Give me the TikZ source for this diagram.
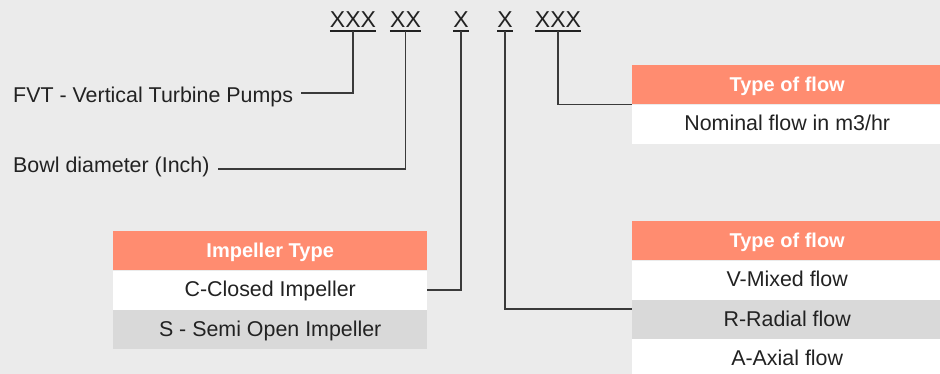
\documentclass[tikz,border=0pt]{standalone}
\usepackage{fontspec}
\setmainfont{Liberation Sans}
\definecolor{bg}{HTML}{EBEBEB}
\definecolor{hdr}{HTML}{FF8C70}
\definecolor{rowgray}{HTML}{D9D9D9}
\definecolor{ink}{HTML}{222222}
\definecolor{wirec}{HTML}{3A3A3A}
\begin{document}
\begin{tikzpicture}[x=1pt,y=-1pt,
  code/.style={font=\fontsize{23}{27}\selectfont, text=ink, inner xsep=0pt, inner ysep=3.7pt, anchor=base},
  uline/.style={draw=ink, line width=1.8pt},
  lbl/.style={font=\fontsize{21.4}{25}\selectfont, text=ink, inner xsep=8pt, inner ysep=0pt, anchor=base west},
  cell/.style={minimum width=#1, minimum height=39pt, inner sep=0pt, text height=13pt, text depth=0pt, anchor=north west},
  hdrcell/.style={cell=#1, fill=hdr, text=white, font=\bfseries\fontsize{20}{24}\selectfont},
  whitecell/.style={cell=#1, fill=white, text=ink, font=\fontsize{21.4}{25}\selectfont},
  graycell/.style={cell=#1, fill=rowgray, text=ink, font=\fontsize{21.4}{25}\selectfont},
  wire/.style={draw=wirec, line width=1.3pt}
]
\useasboundingbox (0,0) rectangle (940,374);
\fill[bg] (0,0) rectangle (940,374);
\begin{scope}
\clip (0,0) rectangle (940,374);
% code letters
\node[code] (c1) at (353,27.3) {XXX};
\node[code] (c2) at (405.5,27.3) {XX};
\node[code] (c3) at (461,27.3) {X};
\node[code] (c4) at (505,27.3) {X};
\node[code] (c5) at (558,27.3) {XXX};
\foreach \n in {c1,c2,c3,c4,c5} \draw[uline] (\n.south west) -- (\n.south east);
% labels
\node[lbl] (fvt) at (5,102.3) {FVT - Vertical Turbine Pumps};
\node[lbl] (bowl) at (5,173) {Bowl diameter (Inch)};
% top-right table
\node[hdrcell=310pt] (th) at (632,65) {Type of flow};
\node[whitecell=310pt] (tn) at (th.south west) {Nominal flow in m3/hr};
% impeller table
\node[hdrcell=314pt] (ih) at (113,231) {Impeller Type};
\node[whitecell=314pt] (ic) at (ih.south west) {C-Closed Impeller};
\node[graycell=314pt] (is) at (ic.south west) {S - Semi Open Impeller};
% flow table
\node[hdrcell=310pt] (fh) at (632,221) {Type of flow};
\node[whitecell=310pt] (fv) at (fh.south west) {V-Mixed flow};
\node[graycell=310pt] (fr) at (fv.south west) {R-Radial flow};
\node[whitecell=310pt] (fa) at (fr.south west) {A-Axial flow};
% connectors
\draw[wire] (c1.south) |- ([yshift=9.3pt]fvt.base east);
\draw[wire] (c2.south) |- ([yshift=4pt]bowl.base east);
\draw[wire] (c3.south) |- (ic.east);
\draw[wire] (c4.south) |- ([yshift=10.5pt]fr.west);
\draw[wire] (c5.south) |- (th.south west);
\end{scope}
\end{tikzpicture}
\end{document}
